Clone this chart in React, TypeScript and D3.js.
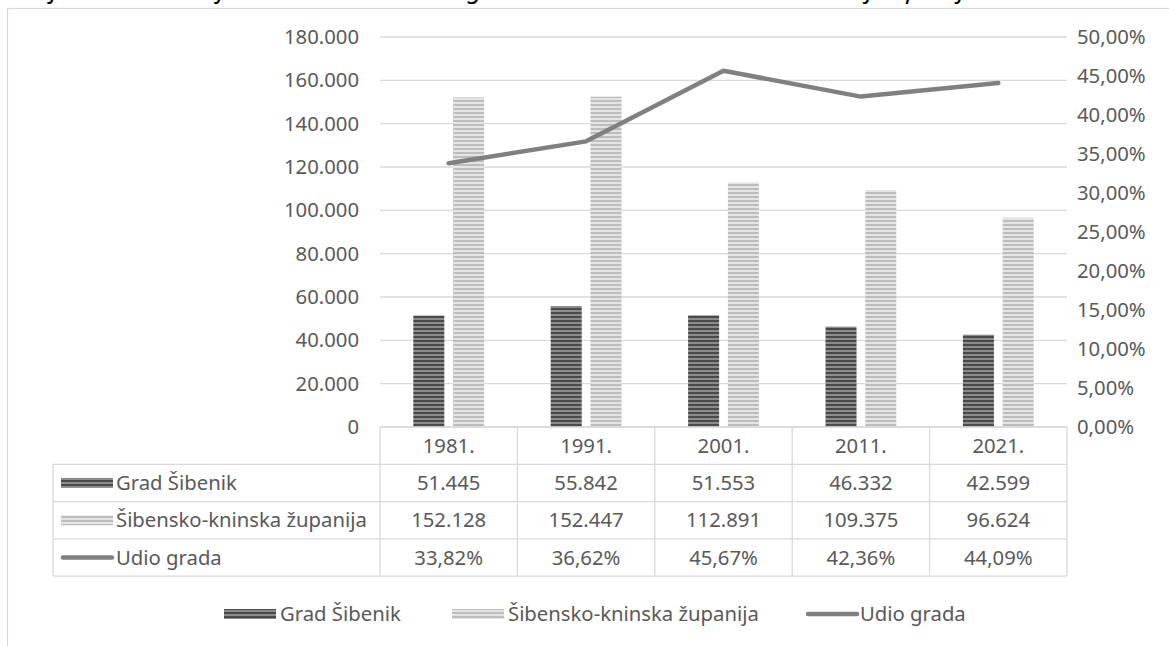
import React from "react";
import * as d3 from "d3";

const years = ["1981.", "1991.", "2001.", "2011.", "2021."];
const gradSibenik = [51445, 55842, 51553, 46332, 42599];
const zupanija = [152128, 152447, 112891, 109375, 96624];
const udioGrada = [0.3382, 0.3662, 0.4567, 0.4236, 0.4409];
const leftTicks = [0, 20000, 40000, 60000, 80000, 100000, 120000, 140000, 160000, 180000];
const rightTicks = [0, 0.05, 0.1, 0.15, 0.2, 0.25, 0.3, 0.35, 0.4, 0.45, 0.5];
const seriesNames = ["Grad Šibenik", "Šibensko-kninska županija", "Udio grada"];
const title = "Grafikon 4. Kretanje stanovništva i udio grada Šibenika u Šibensko-kninskoj županiji";

const W = 1169;
const H = 646;
const FONT = "'Noto Sans', sans-serif";
const TXT = "#595959";
const GRID = "#d9d9d9";
const FS = 20.3;

const loc = d3.formatLocale({ decimal: ",", thousands: ".", grouping: [3], currency: ["", ""] });
const fmtInt = loc.format(",d");
const fmtPct = loc.format(".2%");

export default function App() {
  const plotL = 380, plotR = 1067, plotT = 37, plotB = 427;
  const x = d3.scaleBand<string>().domain(years).range([plotL, plotR]);
  const bw = x.bandwidth();
  const sub = d3.scaleBand<string>().domain(["g", "z"]).range([bw / 2 - 35.4, bw / 2 + 35.4]).paddingInner(0.22);
  const yL = d3.scaleLinear().domain([0, 180000]).range([plotB, plotT]);
  const yR = d3.scaleLinear().domain([0, 0.5]).range([plotB, plotT]);

  const line = d3.line<number>()
    .x((_, i) => (x(years[i]) as number) + bw / 2)
    .y((d) => yR(d));

  const rowH = 37.3;
  const headTop = plotB;
  const tableL = 53;
  const rowsTop = headTop + rowH;
  const tableB = rowsTop + 3 * rowH;
  const rowsData: { name: string; vals: string[]; kind: string }[] = [
    { name: seriesNames[0], vals: gradSibenik.map(fmtInt), kind: "g" },
    { name: seriesNames[1], vals: zupanija.map(fmtInt), kind: "z" },
    { name: seriesNames[2], vals: udioGrada.map(fmtPct), kind: "l" },
  ];

  const key = (kind: string, kx: number, ky: number) => {
    if (kind === "l") {
      return <line x1={kx + 2} x2={kx + 51} y1={ky} y2={ky} stroke="#808080" strokeWidth={4.5} strokeLinecap="round" />;
    }
    return <rect x={kx} y={ky - 5} width={52} height={10} fill={kind === "g" ? "url(#patDark)" : "url(#patLight)"} />;
  };

  const legendItems = [
    { kind: "g", kx: 224, tx: 280, name: seriesNames[0] },
    { kind: "z", kx: 452, tx: 508, name: seriesNames[1] },
    { kind: "l", kx: 806, tx: 860, name: seriesNames[2] },
  ];

  return (
    <svg width={W} height={H} style={{ position: "absolute", left: 0, top: 0, background: "#fff" }} fontFamily={FONT}>
      <defs>
        <pattern id="patDark" width={4} height={4} patternUnits="userSpaceOnUse">
          <rect width={4} height={4} fill="#8c8c8c" />
          <rect width={4} height={2} fill="#4a4a4a" />
        </pattern>
        <pattern id="patLight" width={4} height={4} patternUnits="userSpaceOnUse">
          <rect width={4} height={4} fill="#e4e4e4" />
          <rect width={4} height={2} fill="#bdbdbd" />
        </pattern>
      </defs>
      <rect x={0} y={0} width={W} height={H} fill="#fff" />
      <text x={8} y={-2} fontSize={26} fontStyle="italic" fill="#000" fontFamily={FONT}>{title}</text>
      <rect x={7.5} y={8.5} width={1300} height={800} fill="none" stroke={GRID} strokeWidth={1.2} />

      {leftTicks.map((t) => (
        <line key={"g" + t} x1={plotL} x2={plotR} y1={yL(t)} y2={yL(t)} stroke={GRID} strokeWidth={1.3} />
      ))}
      {leftTicks.map((t) => (
        <text key={"l" + t} x={359} y={yL(t)} dy="0.35em" textAnchor="end" fontSize={FS} fill={TXT}>{t === 0 ? "0" : fmtInt(t)}</text>
      ))}
      {rightTicks.map((t) => (
        <text key={"r" + t} x={1077} y={yR(t)} dy="0.35em" textAnchor="start" fontSize={FS} fill={TXT}>{fmtPct(t)}</text>
      ))}

      {years.map((yr, i) => (
        <g key={yr}>
          <rect x={(x(yr) as number) + (sub("g") as number)} y={yL(gradSibenik[i])} width={sub.bandwidth()} height={plotB - yL(gradSibenik[i])} fill="url(#patDark)" />
          <rect x={(x(yr) as number) + (sub("z") as number)} y={yL(zupanija[i])} width={sub.bandwidth()} height={plotB - yL(zupanija[i])} fill="url(#patLight)" />
        </g>
      ))}

      <path d={line(udioGrada) || ""} fill="none" stroke="#808080" strokeWidth={4.5} strokeLinecap="round" strokeLinejoin="round" />

      <g stroke={GRID} strokeWidth={1.3} fill="none">
        <line x1={plotL} x2={plotR} y1={headTop} y2={headTop} />
        <line x1={tableL} x2={plotR} y1={rowsTop} y2={rowsTop} />
        <line x1={tableL} x2={plotR} y1={rowsTop + rowH} y2={rowsTop + rowH} />
        <line x1={tableL} x2={plotR} y1={rowsTop + 2 * rowH} y2={rowsTop + 2 * rowH} />
        <line x1={tableL} x2={plotR} y1={tableB} y2={tableB} />
        <line x1={tableL} x2={tableL} y1={rowsTop} y2={tableB} />
        {years.map((yr) => (
          <line key={"v" + yr} x1={x(yr) as number} x2={x(yr) as number} y1={headTop} y2={tableB} />
        ))}
        <line x1={plotR} x2={plotR} y1={headTop} y2={tableB} />
      </g>
      {years.map((yr) => (
        <text key={"h" + yr} x={(x(yr) as number) + bw / 2} y={headTop + rowH / 2} dy="0.35em" textAnchor="middle" fontSize={FS} fill={TXT}>{yr}</text>
      ))}
      {rowsData.map((r, ri) => {
        const cy = rowsTop + ri * rowH + rowH / 2;
        return (
          <g key={r.name}>
            {key(r.kind, 61, cy)}
            <text x={116} y={cy} dy="0.35em" fontSize={FS} fill={TXT}>{r.name}</text>
            {r.vals.map((v, i) => (
              <text key={i} x={(x(years[i]) as number) + bw / 2} y={cy} dy="0.35em" textAnchor="middle" fontSize={FS} fill={TXT}>{v}</text>
            ))}
          </g>
        );
      })}

      {legendItems.map((it) => (
        <g key={it.name}>
          {key(it.kind, it.kx, 614)}
          <text x={it.tx} y={614} dy="0.35em" fontSize={FS} fill={TXT}>{it.name}</text>
        </g>
      ))}
    </svg>
  );
}
